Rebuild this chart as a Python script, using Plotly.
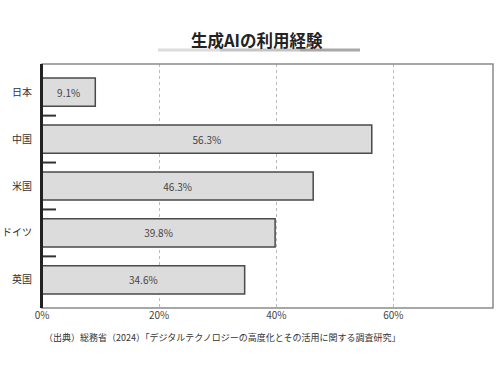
import plotly.graph_objects as go

categories = ["日本", "中国", "米国", "ドイツ", "英国"]
values = [9.1, 56.3, 46.3, 39.8, 34.6]
value_labels = ["9.1%", "56.3%", "46.3%", "39.8%", "34.6%"]
x_ticks = [0, 20, 40, 60]
x_tick_labels = ["0%", "20%", "40%", "60%"]
title_text = "生成AIの利用経験"
source_text = "（出典）総務省（2024）「デジタルテクノロジーの高度化とその活用に関する調査研究」"

FONT = "Noto Sans CJK JP"
PW, PH = 451, 244  # plot area size in px

fig = go.Figure(go.Bar(
    y=categories, x=values, orientation="h",
    text=value_labels, textposition="inside", insidetextanchor="middle",
    textfont=dict(family=FONT, size=10, color="#444"),
    marker=dict(color="#dcdcdc", line=dict(color="#4a4a4a", width=1.5)),
    width=0.6, cliponaxis=False,
))

# short separator ticks between categories
sep_shapes = [
    dict(type="line", xref="paper", yref="y", x0=0, x1=14/PW, y0=i + 0.5, y1=i + 0.5,
         line=dict(color="#333", width=2), layer="above")
    for i in range(len(categories) - 1)
]

ul_y = 1 + 14/PH
fig.update_layout(
    template="none",
    width=500, height=375,
    margin=dict(l=42, r=7, t=64, b=67),
    plot_bgcolor="white", paper_bgcolor="white",
    showlegend=False,
    font=dict(family=FONT, color="#333"),
    xaxis=dict(range=[0, 77], tickvals=x_ticks, ticktext=x_tick_labels,
               showgrid=True, gridcolor="#bbbbbb", griddash="dot", gridwidth=1,
               zeroline=False, showline=False, ticks="", automargin=False,
               tickfont=dict(size=10, color="#444"), fixedrange=True),
    yaxis=dict(range=[4.6, -0.6], type="category", automargin=False,
               showline=True, linecolor="#222", linewidth=2,
               ticks="", showgrid=False, zeroline=False,
               tickfont=dict(size=10, color="#333"), ticklabelstandoff=6),
    shapes=sep_shapes + [
        dict(type="rect", xref="paper", yref="paper", x0=0, x1=1, y0=0, y1=1,
             line=dict(color="#8a8a8a", width=1.5), layer="above"),
        dict(type="line", xref="paper", yref="paper", x0=0, x1=0, y0=0, y1=1,
             line=dict(color="#222", width=2), layer="above"),
        dict(type="line", xref="paper", yref="paper", x0=(158-42)/PW, x1=(220-42)/PW,
             y0=ul_y, y1=ul_y, line=dict(color="#dddddd", width=3)),
        dict(type="line", xref="paper", yref="paper", x0=(220-42)/PW, x1=(300-42)/PW,
             y0=ul_y, y1=ul_y, line=dict(color="#c4c4c4", width=3)),
        dict(type="line", xref="paper", yref="paper", x0=(300-42)/PW, x1=(360-42)/PW,
             y0=ul_y, y1=ul_y, line=dict(color="#a8a8a8", width=3)),
    ],
    annotations=[
        dict(text=f"<b>{title_text}</b>", xref="paper", yref="paper",
             x=(257-42)/PW, y=1 + 24/PH, xanchor="center", yanchor="middle",
             showarrow=False, font=dict(size=16.5, color="#222", family=FONT)),
        dict(text=source_text, xref="paper", yref="paper", x=0, y=0,
             yshift=-29, xanchor="left", yanchor="middle", showarrow=False,
             font=dict(size=9, color="#333", family=FONT)),
    ],
)

fig.write_html("out.html", config={"displayModeBar": False},
               post_script="document.body.style.margin='0';")
